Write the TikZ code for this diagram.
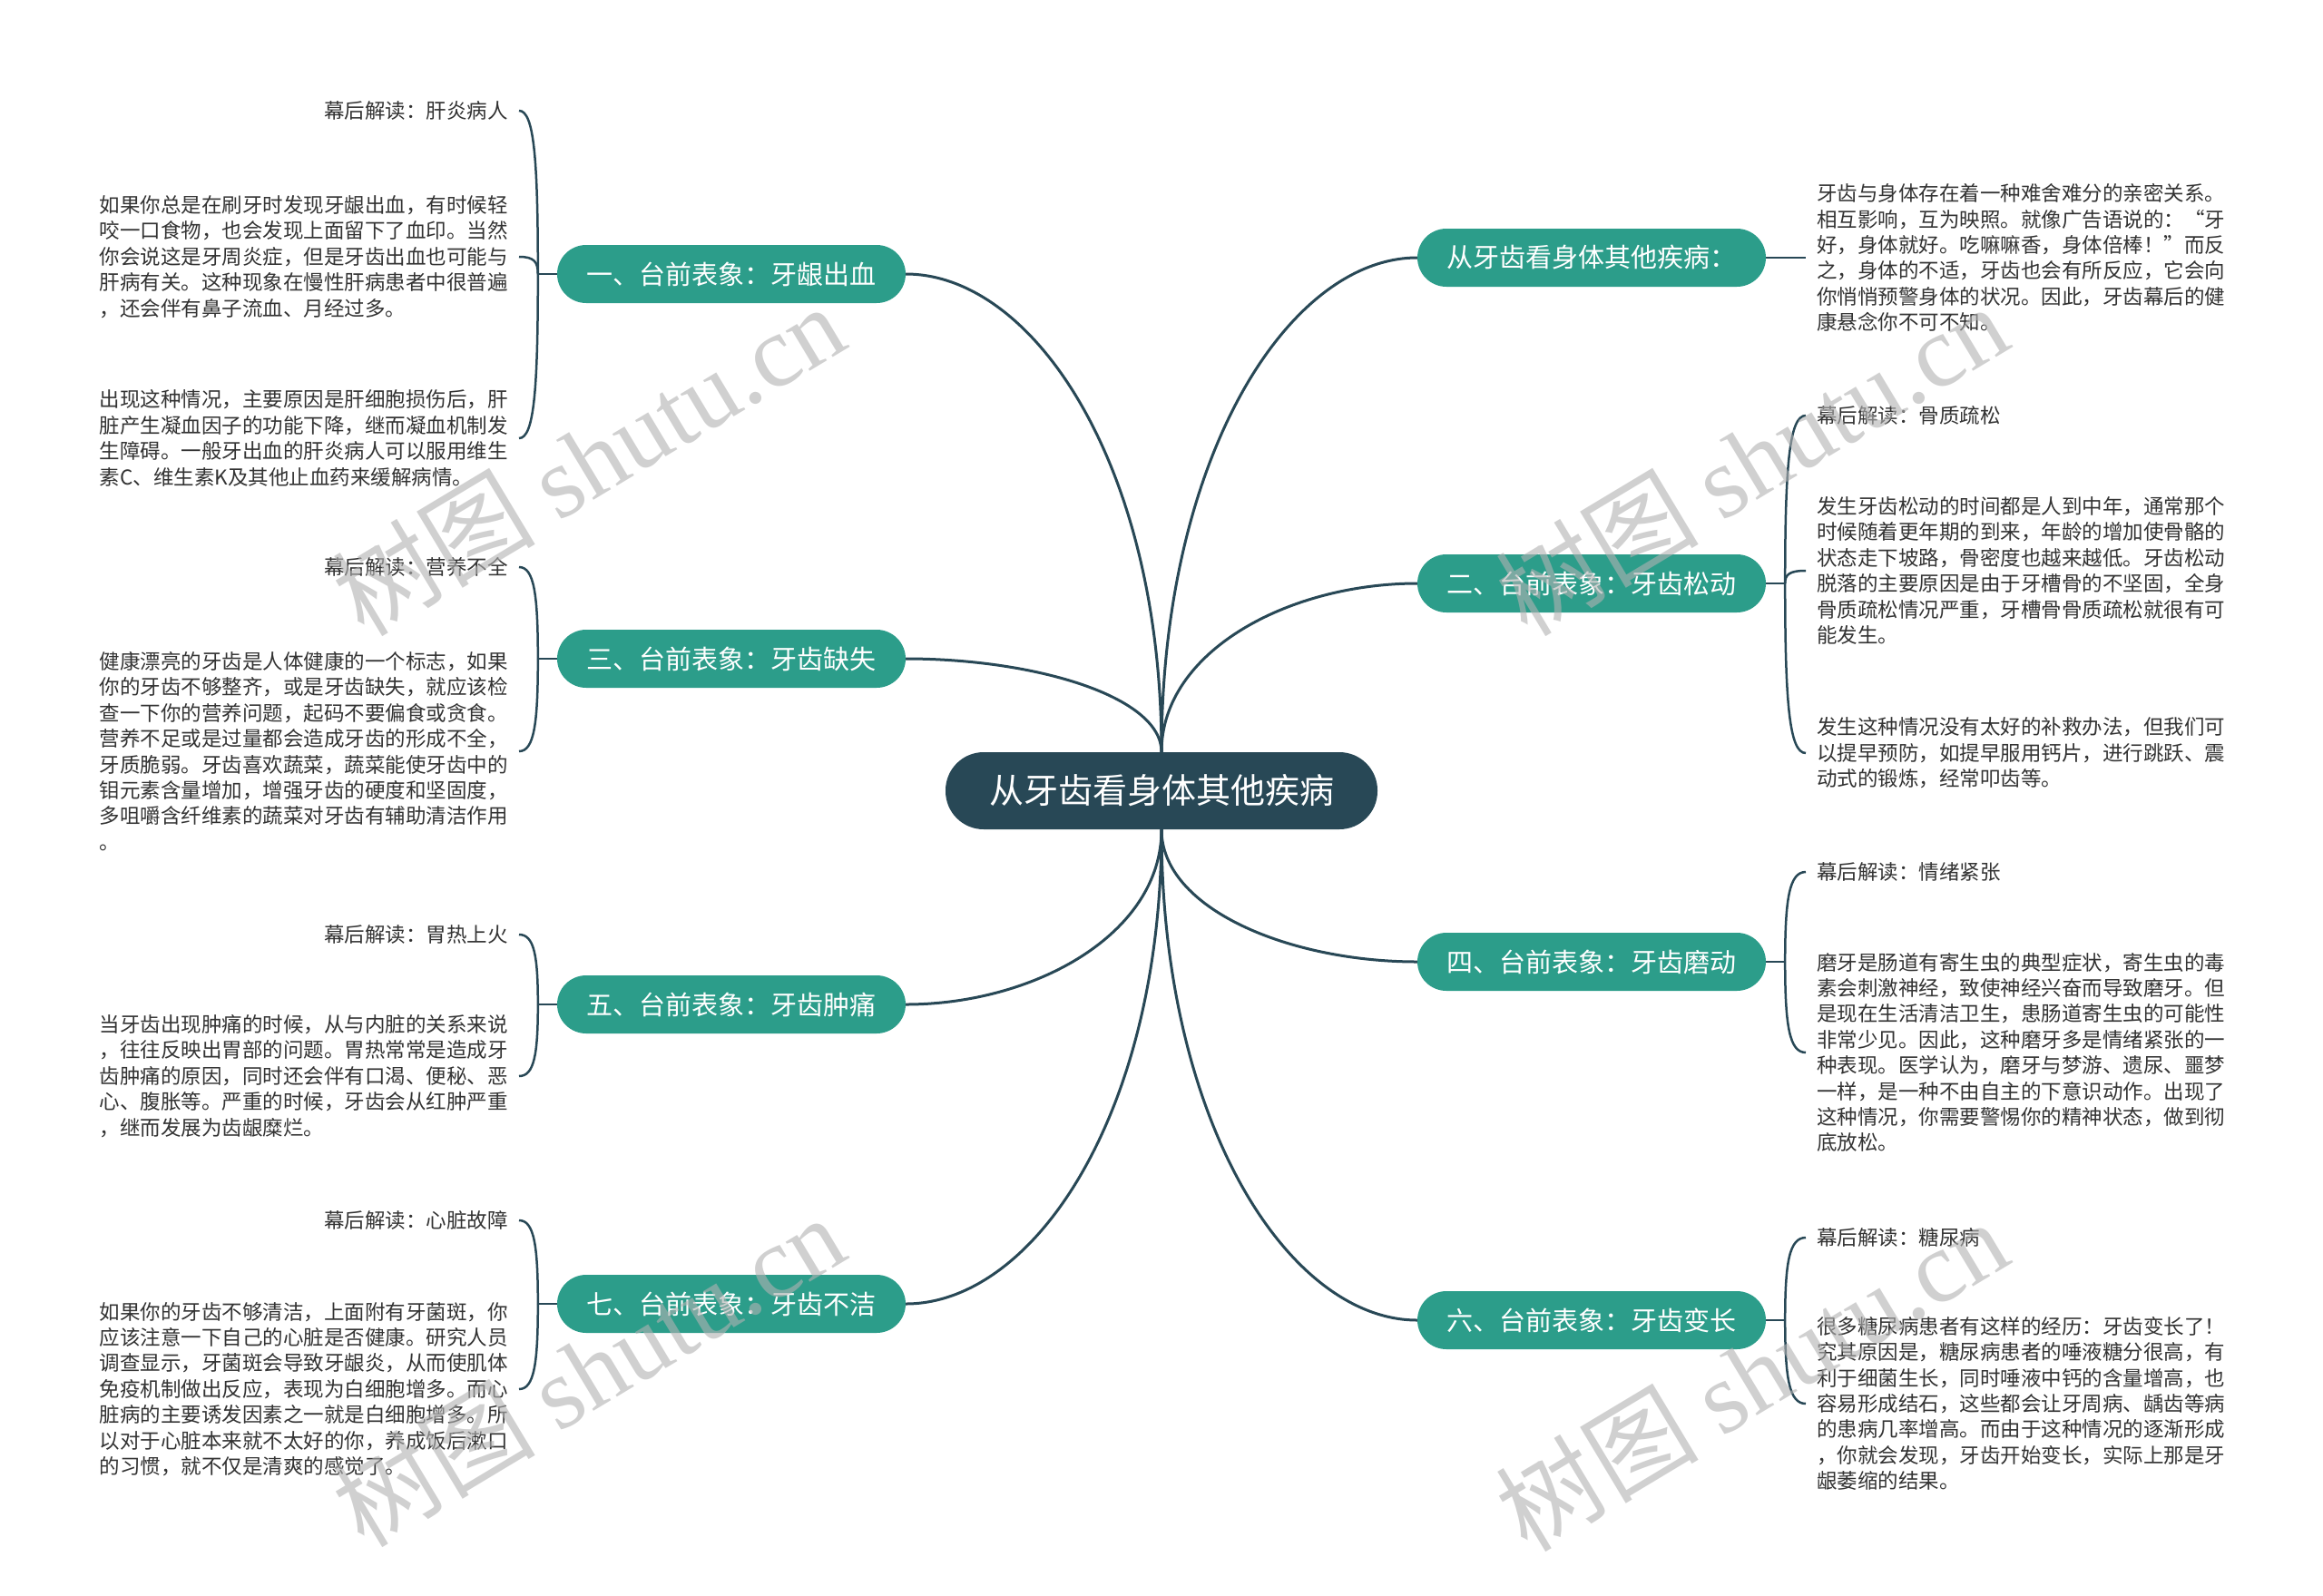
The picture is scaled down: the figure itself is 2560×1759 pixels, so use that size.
\documentclass[tikz,border=0pt]{standalone}
\usepackage{fontspec}
\setmainfont{Noto Sans CJK SC}
\newfontfamily\wmfont{Liberation Serif}
\usetikzlibrary{calc}
\definecolor{hubc}{RGB}{40,72,86}
\definecolor{brteal}{RGB}{44,157,138}
\definecolor{txtc}{RGB}{51,51,51}
\begin{document}
\begin{tikzpicture}[x=1pt,y=-1pt,
  root/.style={fill=hubc,text=white,rounded corners=42pt,minimum width=476pt,minimum height=85pt,inner sep=0pt,font=\fontsize{38}{44}\selectfont},
  branch/.style={fill=brteal,text=white,rounded corners=32pt,minimum width=384pt,minimum height=64pt,inner sep=0pt,font=\fontsize{29}{34}\selectfont},
  leaftxt/.style={text=txtc,font=\fontsize{22.5}{28.4}\selectfont,align=left,inner xsep=12pt,inner ysep=0pt},
  link/.style={draw=hubc,line width=3pt},
  brace/.style={draw=hubc,line width=2.5pt},
  mlink/.style={to path={.. controls ($(\tikztostart)!0.6!(\tikztostart |- \tikztotarget)$) and ($(\tikztotarget)!0.5!(\tikztotarget -| \tikztostart)$) .. (\tikztotarget)}},
  brc/.style={to path={.. controls ($(\tikztostart)!0.7!(\tikztostart |- \tikztotarget)$) and ($(\tikztotarget)!0.8!(\tikztotarget -| \tikztostart)$) .. (\tikztotarget)}},
  wm/.style={text=black!30,opacity=0.6,rotate=31,inner sep=0pt,font=\fontsize{112}{120}\selectfont}
]
\useasboundingbox (0,0) rectangle (2560,1759);
\fill[white] (0,0) rectangle (2560,1759);

% root
\node[root] (c) at (1280,871.5) {从牙齿看身体其他疾病};

% branches
\node[branch] (n0) at (1754,284) {从牙齿看身体其他疾病：};
\node[branch] (n1) at (806,302) {一、台前表象：牙龈出血};
\node[branch] (n2) at (1754,643) {二、台前表象：牙齿松动};
\node[branch] (n3) at (806,726) {三、台前表象：牙齿缺失};
\node[branch] (n4) at (1754,1060) {四、台前表象：牙齿磨动};
\node[branch] (n5) at (806,1107) {五、台前表象：牙齿肿痛};
\node[branch] (n6) at (1754,1455) {六、台前表象：牙齿变长};
\node[branch] (n7) at (806,1437) {七、台前表象：牙齿不洁};

% main links
\draw[link] (c.north) to[mlink] (n1.east);
\draw[link] (c.north) to[mlink] (n3.east);
\draw[link] (c.north) to[mlink] (n0.west);
\draw[link] (c.north) to[mlink] (n2.west);
\draw[link] (c.south) to[mlink] (n5.east);
\draw[link] (c.south) to[mlink] (n7.east);
\draw[link] (c.south) to[mlink] (n4.west);
\draw[link] (c.south) to[mlink] (n6.west);

% left leaves
\node[leaftxt,anchor=east] (a11) at (572,122) {幕后解读：肝炎病人};
\node[leaftxt,anchor=east] (a12) at (572,283) {如果你总是在刷牙时发现牙龈出血，有时候轻\\咬一口食物，也会发现上面留下了血印。当然\\你会说这是牙周炎症，但是牙齿出血也可能与\\肝病有关。这种现象在慢性肝病患者中很普遍\\，还会伴有鼻子流血、月经过多。};
\node[leaftxt,anchor=east] (a13) at (572,483) {出现这种情况，主要原因是肝细胞损伤后，肝\\脏产生凝血因子的功能下降，继而凝血机制发\\生障碍。一般牙出血的肝炎病人可以服用维生\\素C、维生素K及其他止血药来缓解病情。};

\node[leaftxt,anchor=east] (a31) at (572,625) {幕后解读：营养不全};
\node[leaftxt,anchor=east] (a32) at (572,828) {健康漂亮的牙齿是人体健康的一个标志，如果\\你的牙齿不够整齐，或是牙齿缺失，就应该检\\查一下你的营养问题，起码不要偏食或贪食。\\营养不足或是过量都会造成牙齿的形成不全，\\牙质脆弱。牙齿喜欢蔬菜，蔬菜能使牙齿中的\\钼元素含量增加，增强牙齿的硬度和坚固度，\\多咀嚼含纤维素的蔬菜对牙齿有辅助清洁作用\\。};

\node[leaftxt,anchor=east] (a51) at (572,1030) {幕后解读：胃热上火};
\node[leaftxt,anchor=east] (a52) at (572,1186) {当牙齿出现肿痛的时候，从与内脏的关系来说\\，往往反映出胃部的问题。胃热常常是造成牙\\齿肿痛的原因，同时还会伴有口渴、便秘、恶\\心、腹胀等。严重的时候，牙齿会从红肿严重\\，继而发展为齿龈糜烂。};

\node[leaftxt,anchor=east] (a71) at (572,1345) {幕后解读：心脏故障};
\node[leaftxt,anchor=east] (a72) at (572,1531) {如果你的牙齿不够清洁，上面附有牙菌斑，你\\应该注意一下自己的心脏是否健康。研究人员\\调查显示，牙菌斑会导致牙龈炎，从而使肌体\\免疫机制做出反应，表现为白细胞增多。而心\\脏病的主要诱发因素之一就是白细胞增多。所\\以对于心脏本来就不太好的你，养成饭后漱口\\的习惯，就不仅是清爽的感觉了。};

% right leaves
\node[leaftxt,anchor=west] (b01) at (1990,284) {牙齿与身体存在着一种难舍难分的亲密关系。\\相互影响，互为映照。就像广告语说的：“牙\\好，身体就好。吃嘛嘛香，身体倍棒！”而反\\之，身体的不适，牙齿也会有所反应，它会向\\你悄悄预警身体的状况。因此，牙齿幕后的健\\康悬念你不可不知。};

\node[leaftxt,anchor=west] (b21) at (1990,458) {幕后解读：骨质疏松};
\node[leaftxt,anchor=west] (b22) at (1990,629) {发生牙齿松动的时间都是人到中年，通常那个\\时候随着更年期的到来，年龄的增加使骨骼的\\状态走下坡路，骨密度也越来越低。牙齿松动\\脱落的主要原因是由于牙槽骨的不坚固，全身\\骨质疏松情况严重，牙槽骨骨质疏松就很有可\\能发生。};
\node[leaftxt,anchor=west] (b23) at (1990,830) {发生这种情况没有太好的补救办法，但我们可\\以提早预防，如提早服用钙片，进行跳跃、震\\动式的锻炼，经常叩齿等。};

\node[leaftxt,anchor=west] (b41) at (1990,961) {幕后解读：情绪紧张};
\node[leaftxt,anchor=west] (b42) at (1990,1160) {磨牙是肠道有寄生虫的典型症状，寄生虫的毒\\素会刺激神经，致使神经兴奋而导致磨牙。但\\是现在生活清洁卫生，患肠道寄生虫的可能性\\非常少见。因此，这种磨牙多是情绪紧张的一\\种表现。医学认为，磨牙与梦游、遗尿、噩梦\\一样，是一种不由自主的下意识动作。出现了\\这种情况，你需要警惕你的精神状态，做到彻\\底放松。};

\node[leaftxt,anchor=west] (b61) at (1990,1364) {幕后解读：糖尿病};
\node[leaftxt,anchor=west] (b62) at (1990,1547) {很多糖尿病患者有这样的经历：牙齿变长了！\\究其原因是，糖尿病患者的唾液糖分很高，有\\利于细菌生长，同时唾液中钙的含量增高，也\\容易形成结石，这些都会让牙周病、龋齿等病\\的患病几率增高。而由于这种情况的逐渐形成\\，你就会发现，牙齿开始变长，实际上那是牙\\龈萎缩的结果。};

% hubs and braces (left)
\coordinate (h1) at ($(n1.west)+(-21,0)$);
\coordinate (h3) at ($(n3.west)+(-21,0)$);
\coordinate (h5) at ($(n5.west)+(-21,0)$);
\coordinate (h7) at ($(n7.west)+(-21,0)$);
\draw[brace] (n1.west) -- (h1);
\draw[brace] (n3.west) -- (h3);
\draw[brace] (n5.west) -- (h5);
\draw[brace] (n7.west) -- (h7);
\draw[brace] (h1) to[brc] (a11.east);
\draw[brace] (h1) to[brc] (a12.east);
\draw[brace] (h1) to[brc] (a13.east);
\draw[brace] (h3) to[brc] (a31.east);
\draw[brace] (h3) to[brc] (a32.east);
\draw[brace] (h5) to[brc] (a51.east);
\draw[brace] (h5) to[brc] (a52.east);
\draw[brace] (h7) to[brc] (a71.east);
\draw[brace] (h7) to[brc] (a72.east);

% right
\coordinate (h2) at ($(n2.east)+(21,0)$);
\coordinate (h4) at ($(n4.east)+(21,0)$);
\coordinate (h6) at ($(n6.east)+(21,0)$);
\draw[brace] (n0.east) -- (b01.west);
\draw[brace] (n2.east) -- (h2);
\draw[brace] (n4.east) -- (h4);
\draw[brace] (n6.east) -- (h6);
\draw[brace] (h2) to[brc] (b21.west);
\draw[brace] (h2) to[brc] (b22.west);
\draw[brace] (h2) to[brc] (b23.west);
\draw[brace] (h4) to[brc] (b41.west);
\draw[brace] (h4) to[brc] (b42.west);
\draw[brace] (h6) to[brc] (b61.west);
\draw[brace] (h6) to[brc] (b62.west);

% watermarks
\node[wm] (w1) at (648,506) {树图 {\wmfont shutu.cn}};
\node[wm] (w2) at (1930,506) {树图 {\wmfont shutu.cn}};
\node[wm] (w3) at (648,1510) {树图 {\wmfont shutu.cn}};
\node[wm] (w4) at (1930,1515) {树图 {\wmfont shutu.cn}};
\end{tikzpicture}
\end{document}
